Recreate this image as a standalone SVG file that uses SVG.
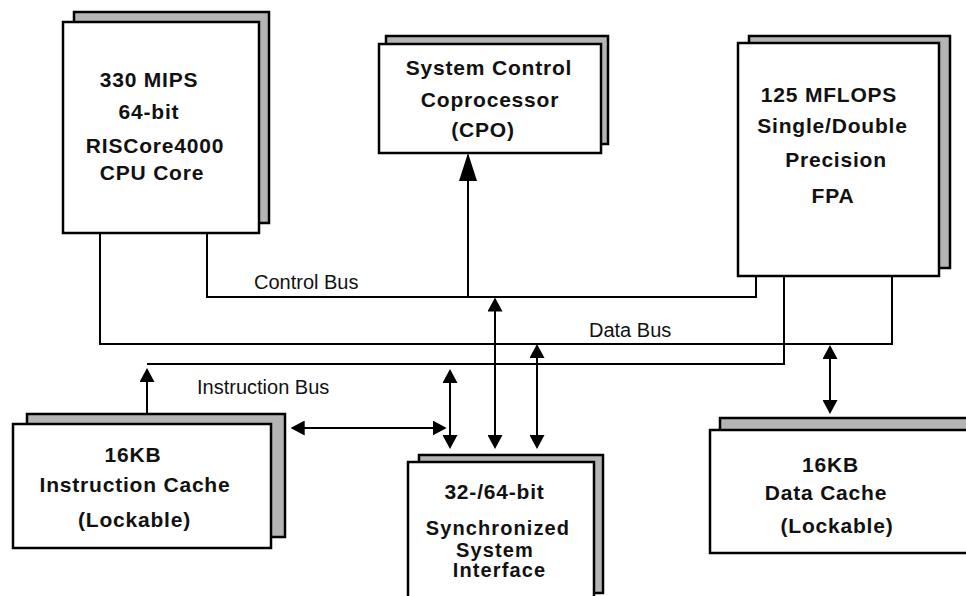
<svg xmlns="http://www.w3.org/2000/svg" width="966" height="596" viewBox="0 0 966 596">
<style>
.bg{fill:#ffffff}
.sh{fill:#b4b4b4;stroke:#000;stroke-width:2.5}
.fr{fill:#ffffff;stroke:#000;stroke-width:2.5}
.t{font-family:"Liberation Sans",Arial,sans-serif;font-weight:bold;font-size:21px;letter-spacing:0.8px;fill:#111;text-anchor:middle}
.ts{font-size:20px;letter-spacing:1.1px}
.lb{font-family:"Liberation Sans",Arial,sans-serif;font-size:20px;fill:#111}
.ln{fill:none;stroke:#000;stroke-width:2}
.a{marker-end:url(#ah)}
.aa{marker-start:url(#ah);marker-end:url(#ah)}
</style>
<defs>
<marker id="ah" viewBox="0 0 14 15" refX="12" refY="7.5" markerWidth="14" markerHeight="15" markerUnits="userSpaceOnUse" orient="auto-start-reverse">
<path d="M0,0 L14,7.5 L0,15 Z" fill="#000"/>
</marker>
<marker id="ahBig" viewBox="0 0 28 18" refX="26" refY="9" markerWidth="28" markerHeight="18" markerUnits="userSpaceOnUse" orient="auto">
<path d="M0,0 L28,9 L0,18 Z" fill="#000"/>
</marker>
</defs>
<rect class="bg" x="0" y="0" width="966" height="596"/>

<g id="connectors">
<path class="ln" d="M207,233 V297 H756 V276"/>
<path class="ln" d="M100,233 V344 H892 V276"/>
<path class="ln" d="M784,276 V364 H147"/>
<path class="ln" d="M468,297 V155" marker-end="url(#ahBig)"/>
<path class="ln a" d="M147,413 V370"/>
<path class="ln aa" d="M292.7,428 H444.7"/>
<path class="ln aa" d="M450,371 V447"/>
<path class="ln aa" d="M495,299.5 V447"/>
<path class="ln aa" d="M537,346 V447"/>
<path class="ln aa" d="M830,347 V412"/>
<text class="lb" x="254" y="289">Control Bus</text>
<text class="lb" x="589" y="337">Data Bus</text>
<text class="lb" x="197" y="394">Instruction Bus</text>
</g>

<g id="cpu">
<rect class="sh" x="74" y="12" width="195" height="211"/>
<rect class="fr" x="63" y="22" width="196" height="211"/>
<text class="t" x="149" y="87">330 MIPS</text>
<text class="t" x="149" y="118.5">64-bit</text>
<text class="t" x="155" y="153">RISCore4000</text>
<text class="t" x="152" y="180">CPU Core</text>
</g>

<g id="cpo">
<rect class="sh" x="386" y="36" width="222" height="108"/>
<rect class="fr" x="379" y="44" width="222" height="109"/>
<text class="t" x="489" y="75">System Control</text>
<text class="t" x="490" y="106.7">Coprocessor</text>
<text class="t" x="483" y="137.3">(CPO)</text>
</g>

<g id="fpa">
<rect class="sh" x="749" y="36" width="201" height="232"/>
<rect class="fr" x="738" y="43" width="201" height="233"/>
<text class="t" x="829" y="101.7">125 MFLOPS</text>
<text class="t" x="832.5" y="133.3">Single/Double</text>
<text class="t" x="836" y="166.7">Precision</text>
<text class="t" x="833" y="203.3">FPA</text>
</g>

<g id="icache">
<rect class="sh" x="27" y="414" width="258" height="123"/>
<rect class="fr" x="13" y="424" width="258" height="124"/>
<text class="t" x="133" y="461.7">16KB</text>
<text class="t" x="135" y="491.7">Instruction Cache</text>
<text class="t" x="134.5" y="526.7">(Lockable)</text>
</g>

<g id="ssi">
<rect class="sh" x="419" y="455" width="184" height="138"/>
<rect class="fr" x="408" y="462" width="186" height="150"/>
<text class="t" x="494.5" y="499.3">32-/64-bit</text>
<text class="t ts" x="498" y="534.5">Synchronized</text>
<text class="t ts" x="495" y="556.5">System</text>
<text class="t ts" x="499.5" y="577">Interface</text>
</g>

<g id="dcache">
<rect class="sh" x="720" y="418" width="280" height="123"/>
<rect class="fr" x="710" y="430" width="290" height="123"/>
<text class="t" x="830.5" y="472.3">16KB</text>
<text class="t" x="826" y="500">Data Cache</text>
<text class="t" x="837" y="533.3">(Lockable)</text>
</g>
</svg>
